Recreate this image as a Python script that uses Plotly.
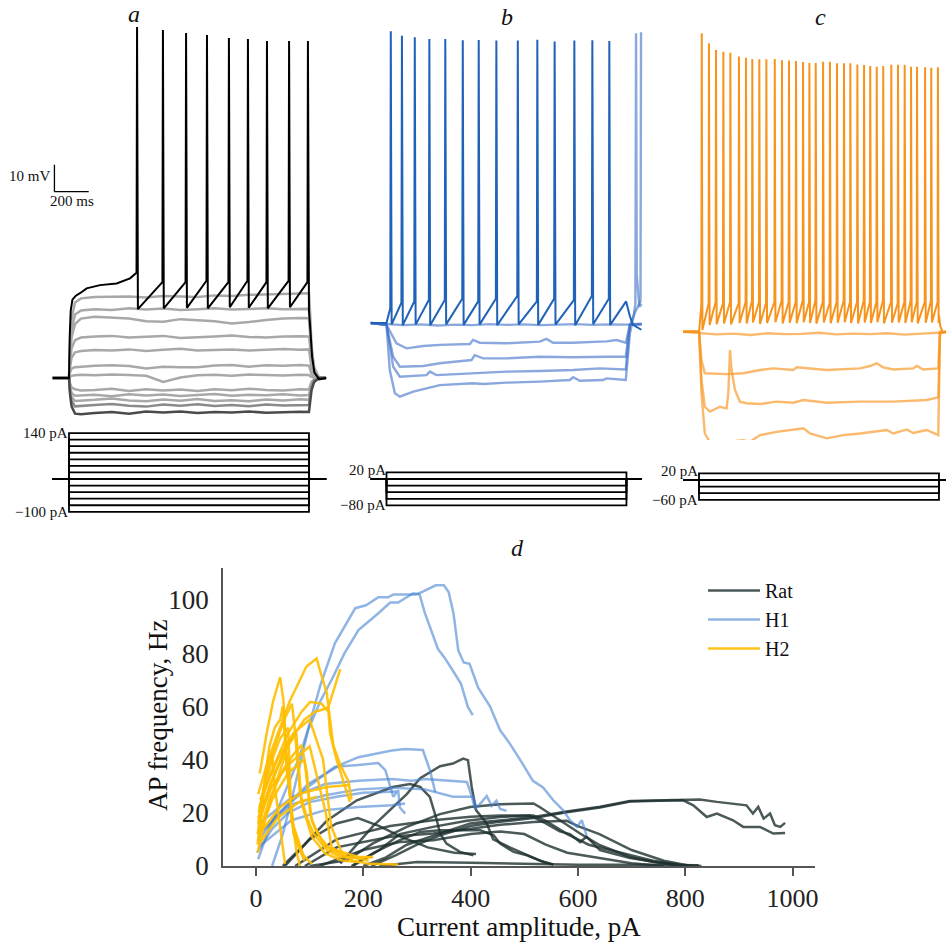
import plotly.graph_objects as go

W, H = 947, 944
FONT = "Liberation Serif"

# ---------------- panel a (rat) ----------------
A_STEPS_PA = [140, 120, 100, 80, 60, 40, 20, 0, -20, -40, -60, -80, -100]
A_PRE_MS, STEP_ON_MS, STEP_OFF_MS, A_POST_MS = -95, 0, 1400, 1500
A_BASE_MV = -70
A_SUB_LEVELS_PA = [120, 100, 80, 60, 40, 20, 0, -20, -40, -60, -80, -100]
A_SUB_T = [-95, 0, 6, 15, 35, 70, 150, 250, 350, 450, 550, 650, 750, 850, 950,
           1050, 1150, 1250, 1350, 1400, 1406, 1415, 1430, 1460, 1500]
A_SUB_V = [
    [-70, -70, -58, -48, -42, -40.5, -40, -40, -39.8, -40.2, -39.6, -39.8, -40, -39.4, -39.6, -39.2, -39, -38.8, -38.6, -38.6, -45, -58, -66, -70, -70],
    [-70, -70, -60, -52, -46.5, -45, -44.5, -44.8, -44.2, -44.6, -44.3, -44.8, -44.5, -44.2, -44.6, -44.4, -44.2, -44.5, -44.3, -44.4, -50, -60, -67, -70, -70],
    [-70, -70, -62, -55, -50, -48, -47.3, -47.6, -48, -49, -49.2, -48.2, -48.5, -49, -49.8, -49.3, -48.5, -48, -47.8, -47.9, -53, -62, -67.5, -70, -70],
    [-70, -70, -64, -59, -56, -55, -54.6, -54.4, -55, -54.8, -54.4, -55.2, -55, -54.6, -54.3, -54.8, -55, -54.6, -54.5, -54.6, -58, -64, -68, -70, -70],
    [-70, -70, -66, -62.5, -60.5, -60, -59.6, -59.8, -59.4, -60, -59.5, -59.2, -59.8, -59.5, -59.4, -59.8, -59.6, -59.3, -59.5, -59.4, -62, -66, -68.5, -70, -70],
    [-70, -70, -68, -66.5, -66, -65.8, -65.5, -65.3, -65.6, -66.5, -65.8, -66, -66, -65.4, -65.2, -65.8, -65.3, -65.5, -65.2, -65.4, -67, -68.5, -69.5, -70, -70],
    [-70, -70, -69.5, -69.2, -69, -68.8, -69, -68.7, -68.9, -69.2, -71.5, -69.8, -69, -68.8, -69.2, -68.7, -68.9, -69.1, -68.8, -68.9, -69.3, -69.6, -69.8, -70, -70],
    [-70, -70, -72, -73.5, -74.2, -74.6, -74.4, -74, -74.8, -74.2, -74.6, -74.3, -74.8, -74.2, -74.5, -74, -74.4, -74.6, -74.2, -74.3, -73, -71.5, -70.5, -70, -70],
    [-70, -70, -73, -75.5, -76.6, -76.4, -76.2, -76.8, -76, -76.5, -76.1, -76.7, -76.3, -75.9, -76.6, -76.2, -76.4, -76, -76.5, -76.3, -74.5, -72, -70.5, -70, -70],
    [-70, -70, -74, -77, -78.5, -78.4, -78.1, -77.6, -78.3, -78.6, -78, -78.4, -77.8, -78.5, -78.2, -78.6, -78, -78.3, -77.9, -78.1, -76, -73, -71, -70, -70],
    [-70, -70, -75, -78.5, -80.5, -80.4, -80, -79.6, -80.3, -80.6, -79.8, -80.3, -79.7, -80.4, -80, -80.5, -79.8, -80.2, -79.9, -80, -77, -73.5, -71, -70, -70],
    [-70, -70, -76, -80.5, -83.2, -83.4, -83, -82.6, -83.2, -82.4, -82.8, -82.4, -83, -82.6, -82.8, -82.4, -82.9, -82.6, -82.5, -82.6, -79, -74.5, -71.5, -70, -70],
]
A_ONSET_T = [4, 10, 20, 40, 64, 103, 181, 278, 356]
A_ONSET_V = [-55, -45, -41, -39.5, -38.6, -36.8, -35.6, -35, -33.1]
A_SPIKE_T = [397, 548, 683, 805, 933, 1044, 1155, 1284, 1394]
A_SPIKE_PEAK = [60, 58.9, 57.8, 57.0, 55.9, 55.6, 54.8, 54.8, 54.8]
A_SPIKE_THR = [-31, -34.5, -34.5, -34, -34.5, -34, -34.5, -34, -34.5]
A_SPIKE_AHP = [-44.5, -44.2, -44, -44.2, -43.8, -44, -44.2, -43.8, -44]
A_POST_T = [1400, 1408, 1418, 1432, 1460, 1500]
A_POST_V = [-45, -52, -62, -68, -70.5, -70]

# ---------------- panel b (H1) ----------------
B_STEPS_PA = [20, 0, -20, -40, -60, -80]
B_PRE_MS, B_POST_MS = -92, 1489
B_BASE_MV = -70
B_ONSET_T = [8, 16]
B_ONSET_V = [-68, -65.5]
B_SPIKE_T = [25, 90, 165, 250, 343, 445, 538, 641, 766, 880, 981, 1096, 1201, 1300]
B_SPIKE_PEAK = [38.1, 36.4, 35.8, 35.2, 35.2, 34.7, 34.8, 34.6, 34.6, 34.9, 34.3, 34.6, 34.7, 34.4]
B_SPIKE_THR = [-64.5, -62.5, -62, -61.5, -61.5, -61, -62, -61, -60, -62, -61, -61.5, -60, -61]
B_SPIKE_AHP = [-70.5, -70.8, -70.6, -70.8, -70.5, -70.7, -70.6, -70.8, -70.5, -70.7, -70.6, -70.8, -70.5, -70.7]
B_POST_T = [1398, 1420, 1438, 1487]
B_POST_V = [-62, -67.5, -70.7, -72.5]
B_SUB_T = [
    [-92, 0, 100, 200, 300, 400, 500, 600, 700, 800, 900, 1000, 1100, 1200, 1300, 1400, 1489],
    [-92, 0, 58, 117, 214, 311, 486, 505, 544, 700, 894, 933, 972, 1089, 1283, 1342, 1396, 1420, 1489],
    [-92, 0, 39, 78, 214, 311, 496, 515, 564, 700, 894, 1089, 1283, 1396, 1420, 1489],
    [-92, 0, 39, 78, 233, 253, 292, 505, 700, 894, 1089, 1244, 1396, 1420, 1450, 1482, 1485],
    [-92, 0, 19, 49, 78, 156, 311, 505, 564, 700, 894, 1069, 1089, 1128, 1264, 1283, 1396, 1420, 1440, 1452, 1456, 1460, 1475, 1489],
]
B_SUB_V = [
    [-70, -70.3, -70.8, -70.5, -70.9, -70.6, -70.8, -70.4, -70.7, -70.5, -70.8, -70.6, -70.4, -70.7, -70.5, -70.6, -70.5],
    [-70, -70.7, -77.5, -79.4, -78.5, -78.1, -77.8, -76.3, -77.3, -77.5, -76.9, -75.9, -77.3, -77.3, -76.8, -76.3, -77.3, -70.7, -70.5],
    [-70, -70.7, -82.5, -86.2, -85.9, -84.9, -83.7, -81.9, -83.1, -83.1, -82.5, -82.7, -82.5, -82.5, -70.5, -70.3],
    [-70, -70.7, -86.2, -89.9, -89.3, -88, -89.3, -88.6, -88, -87.8, -87.4, -86.8, -87.2, -71, -66, -62, 37.7],
    [-70, -70.7, -87.4, -96, -97.3, -95.4, -93, -92.3, -92.6, -92.1, -91.7, -91.1, -90.1, -91.4, -91.1, -90.5, -91.1, -73.9, -68, -63, 37.3, -52, -64, -63],
]

# ---------------- panel c (H2) ----------------
C_STEPS_PA = [20, 0, -20, -40, -60]
C_PRE_MS, C_POST_MS = -93, 1441
C_BASE_MV = -70
C_ONSET_T = [6, 11]
C_ONSET_V = [-66, -62]
C_SPIKE_T = [16, 58, 99, 142, 183, 233, 274, 311, 352, 393, 442, 484, 525, 566, 607, 644, 681, 724,
             764, 805, 846, 883, 924, 963, 999, 1037, 1075, 1122, 1161, 1200, 1237, 1272, 1319, 1355, 1394]
C_SPIKE_PEAK = [40.5, 36.8, 34.3, 33.7, 33.3, 31.9, 31.5, 31.0, 30.9, 30.9, 31.0, 30.5, 30.4, 30.3, 29.9,
                29.5, 29.5, 30.0, 30.0, 29.4, 29.4, 29.4, 29.0, 28.8, 28.4, 28.1, 28.4, 28.9, 28.9, 28.9,
                28.1, 28.1, 27.9, 27.8, 27.9]
C_SPIKE_THR = [-60, -59.5, -59, -59.5, -59, -59.5, -59, -58.5, -59, -59.5, -59, -58.5, -59, -59, -58.5,
               -59, -58.5, -59, -59.5, -59, -58.5, -59, -59, -58.5, -59, -59, -58.5, -59, -59.5, -59,
               -58.5, -59, -59, -58.5, -59]
C_SPIKE_AHP = [-69.4, -67.5, -67.2, -67, -67.3, -66.8, -67, -66.6, -67.1, -66.8, -66.5, -67, -66.7, -66.9,
               -66.5, -66.8, -67, -66.6, -66.9, -66.7, -66.5, -66.8, -67, -66.6, -66.8, -66.5, -66.9, -66.7,
               -66.6, -66.8, -66.5, -66.9, -66.7, -66.6, -66.8]
C_POST_T = [1400, 1408, 1420, 1441]
C_POST_V = [-64, -68, -70, -70.3]
C_SUB_T = [
    [-93, 0, 100, 200, 300, 400, 500, 600, 700, 800, 900, 1000, 1100, 1200, 1300, 1396, 1441],
    [-93, 0.6, 14.6, 34, 161, 259, 356, 434, 550, 570, 745, 939, 998, 1036, 1075, 1134, 1250, 1270, 1309, 1396, 1406, 1441],
    [-93, 0.6, 14.6, 34, 64, 122, 161, 171, 181, 190, 210, 239, 278, 356, 453, 550, 609, 745, 939, 1134, 1328, 1396, 1406, 1441],
    [-93, 0.6, 14.6, 34, 74, 113, 161, 259, 297, 356, 453, 609, 648, 745, 842, 939, 1095, 1134, 1212, 1250, 1328, 1396, 1406, 1441],
]
C_SUB_V = [
    [-70, -70.5, -71, -70.7, -71.2, -70.6, -70.9, -70.8, -70.4, -71, -70.7, -70.9, -70.6, -71.1, -70.8, -70.6, -70.2],
    [-70, -70, -80.5, -85.4, -85.7, -85.4, -84.2, -83.6, -84.2, -83.2, -84.2, -83.6, -82.7, -81.7, -83.2, -84, -83.6, -82.7, -84, -83.6, -70, -70],
    [-70, -70, -87.9, -97.8, -99.6, -97.8, -98.4, -92.9, -76.8, -84.2, -91.6, -95.9, -96.5, -96.8, -95.9, -96.3, -95.3, -96.3, -95.9, -95.9, -95.3, -94.3, -70.5, -70],
    [-70, -70, -92.9, -107.7, -112.1, -111.2, -110.8, -110.2, -110.8, -108.3, -107.1, -105.8, -107.7, -109.5, -108.3, -107.7, -106.4, -107.7, -106.2, -107.5, -106.4, -108.3, -70.6, -70],
]

# ---------------- panel d (F-I curves) ----------------
RAT_X = [
    [200, 240, 281, 343, 399, 423, 517, 579, 641, 697, 750, 796, 827, 859, 889, 914, 926, 936, 946, 958, 967, 977, 986],
    [215, 260, 300, 343, 399, 450, 517, 579, 641, 697, 750, 796, 815, 840, 859, 889, 908, 939, 964, 986],
    [157, 218, 281, 306, 343, 367, 386, 395, 402, 410, 430, 442, 473, 498, 529, 554],
    [50, 90, 132, 188, 255, 287, 306, 324, 337, 343, 355, 380, 405],
    [100, 169, 218, 281, 343, 399, 455, 517, 530, 566, 604, 641, 697, 740, 780],
    [180, 230, 268, 330, 393, 455, 510, 540, 566, 585, 604, 616, 641, 697, 760, 800],
    [73, 150, 250, 330, 400, 455, 517, 540, 580, 620, 680, 740, 790, 830],
    [91, 150, 250, 330, 400, 455, 517, 579, 600, 640, 700, 760, 810],
    [118, 200, 268, 330, 400, 455, 500, 540, 580, 640, 700, 760],
    [178, 220, 268, 306, 343, 418, 443, 455, 480, 505, 536, 554],
    [230, 300, 400, 500, 600, 700, 825],
    [54, 100, 150, 190, 230, 270, 320, 370, 410],
]
RAT_Y = [
    [0, 3, 8, 12.3, 16, 16.5, 18.4, 20.5, 22.3, 24.4, 24.6, 24.7, 25, 24.1, 23.5, 22.8, 19.7, 22.2, 17.8, 19.7, 15.3, 14.7, 16.2],
    [0, 4, 8, 11.5, 15, 16.5, 18, 20.2, 22, 24.2, 24.5, 24.7, 22.8, 18.4, 19.7, 17.2, 14.7, 14.7, 12.2, 12.4],
    [1, 15, 27, 33, 37.5, 38.5, 40.4, 39.8, 29.7, 21, 16, 10, 7, 4.7, 2, 0.5],
    [0, 8, 17, 24.7, 29.7, 30.8, 29.7, 26, 17.2, 12.2, 8.4, 5.3, 4],
    [0, 2.1, 8.5, 14.7, 19.5, 22.2, 23.2, 23.5, 22, 17.2, 12.2, 7.8, 3.4, 1.5, 0.5],
    [0, 6, 12, 14.7, 17, 18.4, 19, 16, 13, 12, 9, 11, 6, 3, 1, 0],
    [0, 10, 15, 17.2, 18.5, 19, 19, 17, 12, 8, 5, 2, 0.5, 0],
    [0, 7, 11, 12.2, 14, 15.5, 16.5, 17, 15, 12, 6, 2, 0],
    [0, 6, 9, 9.7, 12, 13, 12, 8, 5, 3, 1, 0],
    [0, 5, 9.7, 12.8, 13.4, 13.4, 11.5, 8.4, 5.3, 4, 1.5, 0.6],
    [0, 1.5, 1.2, 0.8, 0.5, 0.5, 0.3],
    [0, 10, 16, 18, 15, 11, 7, 5, 4.5],
]
H1_X = [
    [4, 23, 42, 60, 79, 95, 120, 147, 185, 205, 228, 246, 256, 278, 297, 310, 335, 350, 359, 368, 377, 387,
     398, 414, 436, 455, 473, 492, 516, 535, 554, 572, 585, 598, 607, 616],
    [30, 50, 70, 97, 120, 141, 165, 191, 228, 250, 265, 281, 293, 305, 314, 339, 351, 367, 382, 395, 404],
    [4, 35, 66, 97, 129, 160, 191, 222, 253, 278, 311, 324, 330, 334],
    [10, 54, 97, 147, 191, 228, 241, 250, 256, 265, 268, 278],
    [4, 66, 129, 191, 253, 290, 315, 393, 402, 408, 420, 430, 439, 448, 455, 467],
    [4, 66, 129, 191, 253, 315, 367, 405, 410],
    [4, 66, 129, 191, 253, 278],
    [2, 30, 60, 100, 150, 200, 262],
]
H1_Y = [
    [2.6, 13.2, 22, 31, 40, 50, 68, 83.7, 96.9, 98, 101, 101, 102, 102, 102, 103, 105.5, 105.5, 103, 95, 81,
     76.5, 76, 67, 60, 51, 46, 40, 32, 29.5, 24.7, 21, 17.2, 14.7, 17.2, 11.6],
    [0, 12, 28, 51, 62, 70, 80, 88.7, 95, 99, 99, 101, 102.5, 102, 95.5, 81.6, 78.4, 73.4, 68.5, 59.7, 56.7],
    [9.4, 18.2, 24.5, 30.8, 34.6, 38.3, 40.9, 42.1, 43.4, 44, 43.6, 36, 31, 27.8],
    [13.2, 22, 29.7, 37.3, 38, 38.7, 36, 29.7, 26, 28.5, 22, 19.7],
    [15.6, 25.7, 30.8, 32, 32.7, 32, 32.7, 31.6, 26.3, 21.4, 23.9, 26.3, 22.6, 24.5, 21.4, 20.7],
    [11.8, 23.2, 26.6, 28.8, 29.4, 28.8, 26, 26, 22],
    [7, 17.2, 21, 22.2, 22.8, 23.5],
    [5, 14, 20, 24, 26, 27.5, 28],
]
H2_X = [
    [4, 20, 32, 63, 94, 113, 119, 132, 135, 144, 157, 172, 178],
    [7, 20, 32, 45, 51, 57, 63, 69, 76, 82],
    [5, 20, 40, 55, 67, 72, 82, 95, 107, 132, 157, 190, 218],
    [4, 30, 60, 90, 110, 128, 135, 145, 157],
    [6, 30, 60, 85, 101, 122, 135, 138, 150, 165, 175],
    [5, 25, 50, 70, 85, 95, 101, 110, 119, 140, 160, 185, 210],
    [7, 45, 82, 132, 175],
    [5, 40, 80, 113],
    [3, 12, 22, 30, 35, 45, 54],
    [3, 15, 30, 45, 60, 66, 85, 104],
    [5, 25, 50, 75, 85, 104, 129, 160, 191],
    [4, 30, 60, 90, 104, 129, 191, 216],
    [6, 30, 60, 100, 130, 141, 180, 210, 265],
    [8, 40, 70, 100, 125, 140, 160],
    [4, 15, 25, 35, 45, 50, 58, 70, 90],
    [3, 20, 40, 55, 62, 70, 90],
]
H2_Y = [
    [27, 38, 45, 62, 75, 78, 73.6, 64.9, 59.8, 45.4, 38, 32, 25],
    [34.8, 50, 62, 71, 62.4, 42.3, 27.4, 14.7, 4.8, 0],
    [20, 35, 48, 56, 61, 52, 27.4, 18, 12.3, 5.9, 3.4, 3, 3.4],
    [18, 32, 46, 55, 58, 59, 59.8, 66, 74],
    [22, 36, 50, 58, 61.7, 61, 58, 50, 40, 30, 24],
    [12, 25, 36, 42, 45.4, 35, 19.7, 14, 10.9, 6, 4, 3, 2],
    [12.3, 22.2, 27.2, 29.7, 30.4],
    [8, 18, 24, 26],
    [8, 25, 40, 42, 30, 15, 0.8],
    [12, 28, 40, 48, 52, 17, 4.7, 0.8],
    [15, 30, 42, 50, 23.5, 11, 4.7, 2.1, 1.5],
    [10, 25, 35, 40, 17, 7.2, 3.4, 3.4],
    [18, 30, 38, 45, 20, 7, 2, 0.8, 0.6],
    [25, 40, 50, 55, 40, 15, 5],
    [16, 30, 45, 52, 55, 60, 35, 15, 3],
    [5, 20, 33, 42, 30, 12, 2],
]
X_TICKS = [0, 200, 400, 600, 800, 1000]
Y_TICKS = [0, 20, 40, 60, 80, 100]
GROUP_NAMES = ["Rat", "H1", "H2"]

# ---------------- styles ----------------
RAT_COLOR = "rgba(30,48,48,0.8)"
H1_COLOR = "rgba(70,130,210,0.6)"
H2_COLOR = "rgba(255,190,0,0.9)"
GRAY = "#a8a8a8"
B_DARK, B_LIGHT = "#1f62b8", "rgba(60,110,200,0.6)"
C_DARK, C_LIGHT = "#f7941d", "rgba(247,148,29,0.65)"


def xdom(p0, p1):
    return [p0 / W, p1 / W]


def ydom(top, bot):
    return [1 - bot / H, 1 - top / H]


def xrange_px(p0, p1, pref, vref, ppu):
    return [vref + (p0 - pref) / ppu, vref + (p1 - pref) / ppu]


def yrange_px(top, bot, pref, vref, ppu):
    return [vref - (bot - pref) / ppu, vref + (pref - top) / ppu]


def hidden(dom, rng, anchor):
    return dict(domain=dom, range=rng, visible=False, showgrid=False, zeroline=False,
                fixedrange=True, anchor=anchor, automargin=False)


def spiking(pre, base, on_t, on_v, st, pk, thr, ahp, post_t, post_v, rise=3, fall=5):
    t = [pre, 0] + list(on_t)
    v = [base, base] + list(on_v)
    for ts, p, th, a in zip(st, pk, thr, ahp):
        t += [ts - rise, ts, ts + fall]
        v += [th, p, a]
    return t + list(post_t), v + list(post_v)


fig = go.Figure()


def line(x, y, xa, ya, color, width=2.0, **kw):
    fig.add_trace(go.Scatter(x=x, y=y, mode="lines", xaxis=xa, yaxis=ya,
                             line=dict(color=color, width=width), hoverinfo="skip",
                             showlegend=kw.pop("showlegend", False), **kw))


def protocol(steps, pre, post, xa, ya):
    for s in steps:
        line([pre, STEP_ON_MS, STEP_ON_MS, STEP_OFF_MS, STEP_OFF_MS, post],
             [0, 0, s, s, 0, 0], xa, ya, "black", 1.8)


# ---- panel d traces ----
for gi, (xs, ys, col) in enumerate([(RAT_X, RAT_Y, RAT_COLOR), (H1_X, H1_Y, H1_COLOR), (H2_X, H2_Y, H2_COLOR)]):
    for i, (cx, cy) in enumerate(zip(xs, ys)):
        line(cx, cy, "x", "y", col, 2.5, name=GROUP_NAMES[gi], legendgroup=GROUP_NAMES[gi],
             showlegend=(i == 0))

# ---- panel a ----
a_sub_colors = [GRAY] * 10 + ["#8a8a8a", "#4a4a4a"]
for vals, col in zip(A_SUB_V, a_sub_colors):
    line(A_SUB_T, vals, "x2", "y2", col, 2.5)
ta, va = spiking(A_PRE_MS, A_BASE_MV, A_ONSET_T, A_ONSET_V, A_SPIKE_T, A_SPIKE_PEAK,
                 A_SPIKE_THR, A_SPIKE_AHP, A_POST_T, A_POST_V)
line(ta, va, "x2", "y2", "black", 2.0)
protocol(A_STEPS_PA, A_PRE_MS, A_POST_MS, "x3", "y3")

# ---- panel b ----
for tt, vv in zip(B_SUB_T, B_SUB_V):
    line(tt, vv, "x4", "y4", B_LIGHT, 2.4)
tb, vb = spiking(B_PRE_MS, B_BASE_MV, B_ONSET_T, B_ONSET_V, B_SPIKE_T, B_SPIKE_PEAK,
                 B_SPIKE_THR, B_SPIKE_AHP, B_POST_T, B_POST_V)
line(tb, vb, "x4", "y4", B_DARK, 2.0)
protocol(B_STEPS_PA, B_PRE_MS, B_POST_MS, "x5", "y5")

# ---- panel c ----
for tt, vv in zip(C_SUB_T, C_SUB_V):
    line(tt, vv, "x6", "y6", C_LIGHT, 2.4)
tc, vc = spiking(C_PRE_MS, C_BASE_MV, C_ONSET_T, C_ONSET_V, C_SPIKE_T, C_SPIKE_PEAK,
                 C_SPIKE_THR, C_SPIKE_AHP, C_POST_T, C_POST_V, rise=2, fall=4)
line(tc, vc, "x6", "y6", C_DARK, 2.0)
protocol(C_STEPS_PA, C_PRE_MS, C_POST_MS, "x7", "y7")

# ---------------- axes ----------------
MS_PX = 0.1714   # px per ms
MV_PX = 2.7      # px per mV
PA_PX = 0.33     # px per pA (protocol)

layout_axes = dict(
    xaxis=dict(domain=xdom(223, 815), range=xrange_px(223, 815, 256, 0, 0.5366),
               tickvals=X_TICKS, ticks="outside", ticklen=8, tickwidth=1.5, tickcolor="#555",
               showline=True, linecolor="#555", linewidth=1.5, showgrid=False, zeroline=False,
               tickfont=dict(family=FONT, size=26, color="#222"), anchor="y", fixedrange=True,
               automargin=False),
    yaxis=dict(domain=ydom(568, 866), range=[0, 112], tickvals=Y_TICKS, ticks="outside",
               ticklen=7, tickcolor="rgba(0,0,0,0)", showline=True, linecolor="#555",
               linewidth=1.5, showgrid=False, zeroline=False,
               tickfont=dict(family=FONT, size=27, color="#222"), anchor="x", fixedrange=True,
               automargin=False),
    xaxis2=hidden(xdom(0, 338), xrange_px(0, 338, 69, 0, MS_PX), "y2"),
    yaxis2=hidden(ydom(5, 440), yrange_px(5, 440, 378, A_BASE_MV, MV_PX), "x2"),
    xaxis3=hidden(xdom(0, 338), xrange_px(0, 338, 69, 0, MS_PX), "y3"),
    yaxis3=hidden(ydom(420, 525), yrange_px(420, 525, 479, 0, 0.328), "x3"),
    xaxis4=hidden(xdom(345, 660), xrange_px(345, 660, 386.5, 0, MS_PX), "y4"),
    yaxis4=hidden(ydom(5, 440), yrange_px(5, 440, 323, B_BASE_MV, MV_PX), "x4"),
    xaxis5=hidden(xdom(345, 660), xrange_px(345, 660, 386.5, 0, MS_PX), "y5"),
    yaxis5=hidden(ydom(440, 525), yrange_px(440, 525, 479, 0, PA_PX), "x5"),
    xaxis6=hidden(xdom(665, 947), xrange_px(665, 947, 699, 0, MS_PX), "y6"),
    yaxis6=hidden(ydom(5, 470), yrange_px(5, 470, 331.7, C_BASE_MV, MV_PX), "x6"),
    xaxis7=hidden(xdom(665, 947), xrange_px(665, 947, 699, 0, MS_PX), "y7"),
    yaxis7=hidden(ydom(440, 525), yrange_px(440, 525, 480, 0, PA_PX), "x7"),
)

# scale bar (panel a coordinates)
SB_T0, SB_V0 = -85, -1
SCALE_MS, SCALE_MV = 200, 10
shapes = [
    dict(type="line", xref="x2", yref="y2", x0=SB_T0, x1=SB_T0, y0=SB_V0, y1=SB_V0 + SCALE_MV,
         line=dict(color="black", width=1.3)),
    dict(type="line", xref="x2", yref="y2", x0=SB_T0, x1=SB_T0 + SCALE_MS, y0=SB_V0, y1=SB_V0,
         line=dict(color="black", width=1.3)),
]


def ann(text, x, y, xref="paper", yref="paper", size=15, xanchor="center", yanchor="middle", **kw):
    return dict(text=text, x=x, y=y, xref=xref, yref=yref, showarrow=False,
                xanchor=xanchor, yanchor=yanchor,
                font=dict(family=FONT, size=size, color="#111"), **kw)


annotations = [
    ann("<i>a</i>", 134 / W, 1 - 14 / H, size=24),
    ann("<i>b</i>", 507 / W, 1 - 17 / H, size=24),
    ann("<i>c</i>", 820 / W, 1 - 17 / H, size=24),
    ann("<i>d</i>", 517 / W, 1 - 548 / H, size=24),
    ann(f"{SCALE_MV} mV", SB_T0, SB_V0 + SCALE_MV / 2 + 1, "x2", "y2", xanchor="right", xshift=-2),
    ann(f"{SCALE_MS} ms", SB_T0 + SCALE_MS / 2, SB_V0, "x2", "y2", yanchor="top", yshift=1),
    ann(f"{A_STEPS_PA[0]} pA", STEP_ON_MS, A_STEPS_PA[0], "x3", "y3", xanchor="right", xshift=1),
    ann(f"\u2212{abs(A_STEPS_PA[-1])} pA", STEP_ON_MS, A_STEPS_PA[-1], "x3", "y3", xanchor="right", xshift=1),
    ann(f"{B_STEPS_PA[0]} pA", STEP_ON_MS, B_STEPS_PA[0], "x5", "y5", xanchor="right", xshift=1, yshift=2),
    ann(f"\u2212{abs(B_STEPS_PA[-1])} pA", STEP_ON_MS, B_STEPS_PA[-1], "x5", "y5", xanchor="right", xshift=1),
    ann(f"{C_STEPS_PA[0]} pA", STEP_ON_MS, C_STEPS_PA[0], "x7", "y7", xanchor="right", xshift=1, yshift=2),
    ann(f"\u2212{abs(C_STEPS_PA[-1])} pA", STEP_ON_MS, C_STEPS_PA[-1], "x7", "y7", xanchor="right", xshift=1),
    ann("AP frequency, Hz", 158 / W, 1 - 716 / H, size=27, textangle=-90),
    ann("Current amplitude, pA", 519 / W, 1 - 927 / H, size=27),
]

fig.update_layout(
    width=W, height=H, autosize=False,
    margin=dict(l=0, r=0, t=0, b=0, pad=0, autoexpand=False),
    paper_bgcolor="white", plot_bgcolor="white",
    shapes=shapes, annotations=annotations,
    legend=dict(x=703 / W, y=1 - 571 / H, xanchor="left", yanchor="top",
                font=dict(family=FONT, size=20, color="#111"), bgcolor="rgba(0,0,0,0)",
                itemwidth=52, tracegroupgap=0),
    **layout_axes,
)

fig.write_html("out.html")
